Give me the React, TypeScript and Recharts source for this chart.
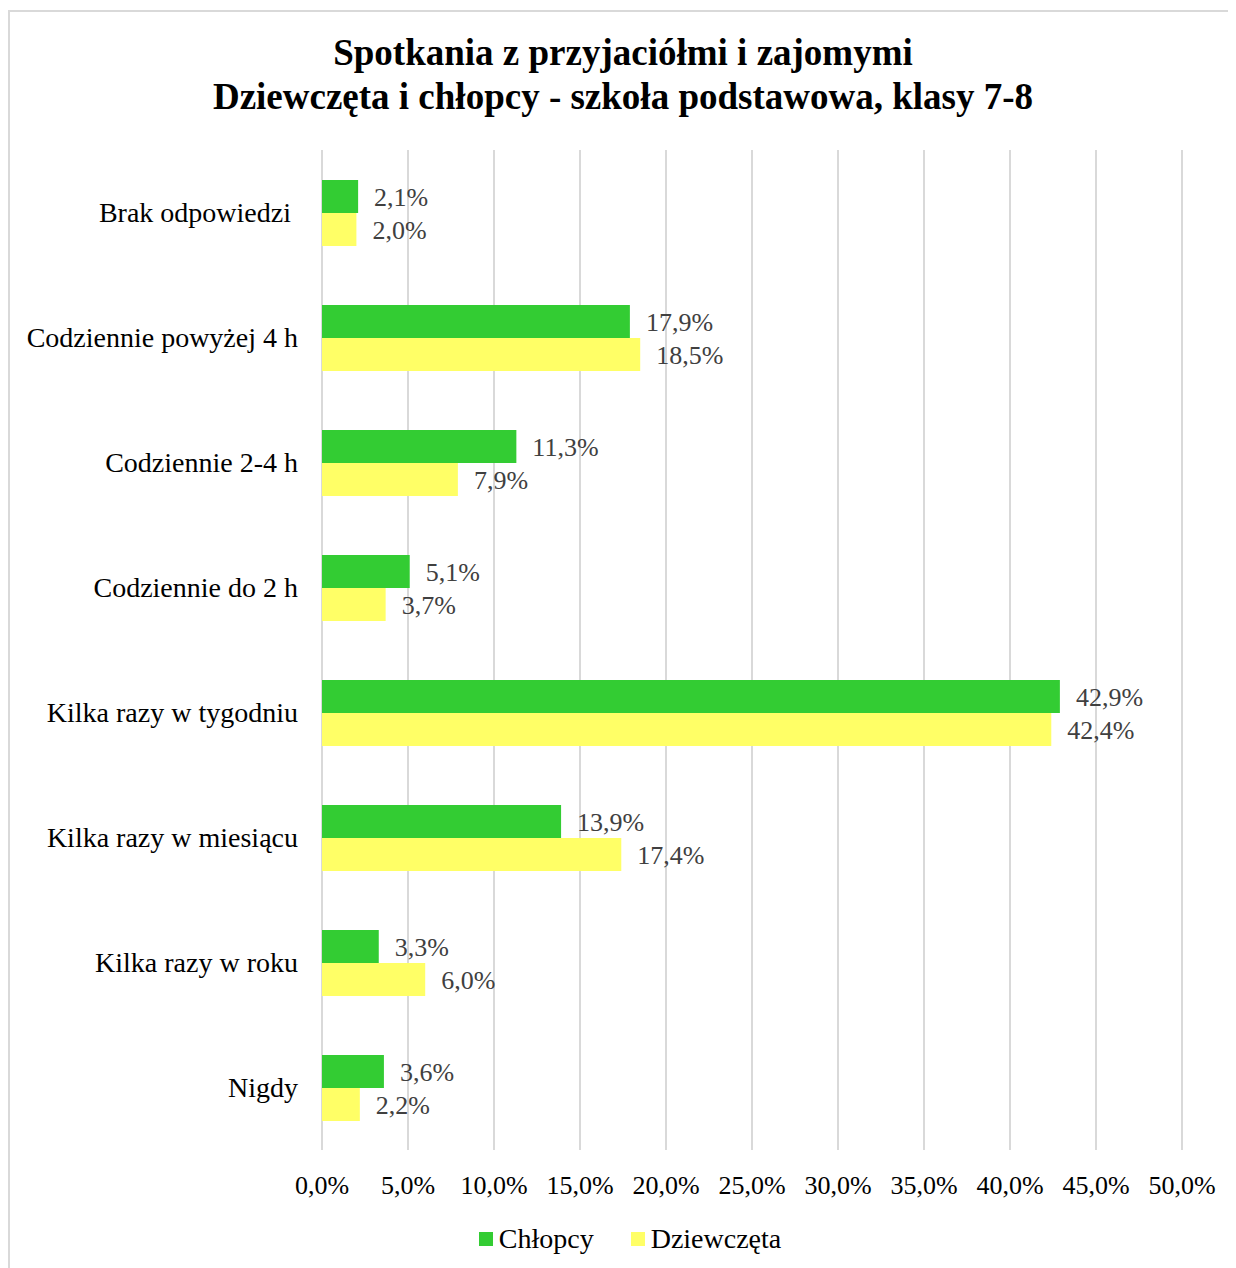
import React from "react"
import { BarChart, Bar, XAxis, YAxis, CartesianGrid, LabelList } from "recharts"

const categories = [
  "Brak odpowiedzi\u00a0",
  "Codziennie powyżej 4 h",
  "Codziennie 2-4 h",
  "Codziennie do 2 h",
  "Kilka razy w tygodniu",
  "Kilka razy w miesiącu",
  "Kilka razy w roku",
  "Nigdy",
]
const chlopcy = [2.1, 17.9, 11.3, 5.1, 42.9, 13.9, 3.3, 3.6]
const dziewczeta = [2.0, 18.5, 7.9, 3.7, 42.4, 17.4, 6.0, 2.2]
const xTicks = [0, 5, 10, 15, 20, 25, 30, 35, 40, 45, 50]

const GREEN = "#33cc33"
const YELLOW = "#ffff66"
const FONT = "'Liberation Serif', 'Times New Roman', serif"

const fmt = (v: number) => v.toFixed(1).replace(".", ",") + "%"

export default function App() {
  const data = categories.map((name, i) => ({
    name,
    chlopcy: chlopcy[i],
    dziewczeta: dziewczeta[i],
  }))

  return (
    <div
      style={{
        position: "relative",
        top: 2,
        width: 1228,
        height: 1262,
        borderTop: "2px solid #d9d9d9",
        borderLeft: "2px solid #d9d9d9",
        boxSizing: "border-box",
        fontFamily: FONT,
        background: "#fff",
      }}
    >
      <div
        style={{
          position: "absolute",
          top: 19,
          left: 0,
          width: 1226,
          textAlign: "center",
          fontWeight: "bold",
          fontSize: 37,
          lineHeight: "44px",
          color: "#000",
        }}
      >
        Spotkania z przyjaciółmi i zajomymi
        <br />
        Dziewczęta i chłopcy - szkoła podstawowa, klasy 7-8
      </div>
      <div style={{ position: "absolute", top: 0, left: 0 }}>
        <BarChart
          width={1226}
          height={1250}
          data={data}
          layout="vertical"
          margin={{ top: 138, right: 54, left: 12, bottom: 12 }}
          barGap={0}
          barSize={33}
        >
          <CartesianGrid horizontal={false} stroke="#d9d9d9" strokeWidth={2} />
          <XAxis
            type="number"
            domain={[0, 50]}
            ticks={xTicks}
            tickFormatter={fmt}
            axisLine={false}
            tickLine={false}
            tickSize={0}
            tickMargin={26}
            height={100}
            tick={{ fill: "#000", fontSize: 26, fontFamily: FONT }}
          />
          <YAxis
            type="category"
            dataKey="name"
            width={300}
            axisLine={false}
            tickLine={false}
            tickSize={0}
            tickMargin={24}
            interval={0}
            tick={{ fill: "#000", fontSize: 28, fontFamily: FONT }}
          />
          <Bar dataKey="chlopcy" name="Chłopcy" fill={GREEN} isAnimationActive={false}>
            <LabelList
              dataKey="chlopcy"
              position="right"
              offset={16}
              formatter={(v: number) => fmt(v)}
              style={{ fill: "#404040", fontSize: 26, fontFamily: FONT }}
            />
          </Bar>
          <Bar dataKey="dziewczeta" name="Dziewczęta" fill={YELLOW} isAnimationActive={false}>
            <LabelList
              dataKey="dziewczeta"
              position="right"
              offset={16}
              formatter={(v: number) => fmt(v)}
              style={{ fill: "#404040", fontSize: 26, fontFamily: FONT }}
            />
          </Bar>
        </BarChart>
      </div>
      <div
        style={{
          position: "absolute",
          top: 1211,
          left: 0,
          width: 1240,
          display: "flex",
          justifyContent: "center",
          alignItems: "center",
          fontSize: 28,
          color: "#000",
          gap: 37,
        }}
      >
        {[
          { label: "Chłopcy", color: GREEN },
          { label: "Dziewczęta", color: YELLOW },
        ].map((item) => (
          <div key={item.label} style={{ display: "flex", alignItems: "center" }}>
            <span
              style={{
                display: "inline-block",
                width: 14,
                height: 14,
                background: item.color,
                marginRight: 6,
              }}
            />
            <span>{item.label}</span>
          </div>
        ))}
      </div>
    </div>
  )
}
